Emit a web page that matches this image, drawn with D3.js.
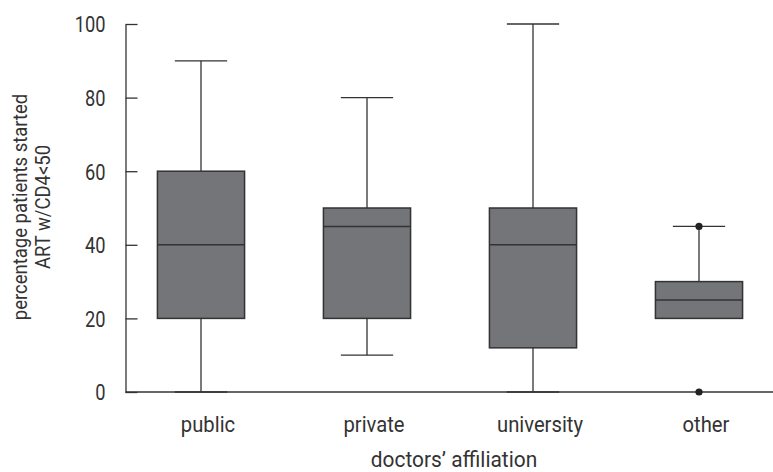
<!DOCTYPE html>
<html>
<head>
<meta charset="utf-8">
<script src="https://cdn.jsdelivr.net/npm/d3@7"></script>
<style>
  body { margin: 0; background: #fff; }
  svg text { font-family: Roboto, "Liberation Sans", sans-serif; fill: #333; }
</style>
</head>
<body>
<div id="chart"></div>
<script>
// box plot values
const categories = ["public", "private", "university", "other"];
const whiskerLow = [0, 10, 0, 20];
const q1 = [20, 20, 12, 20];
const median = [40, 45, 40, 25];
const q3 = [60, 50, 50, 30];
const whiskerHigh = [90, 80, 100, 45];
const outliers = [[], [], [], [0, 45]];
const yTicks = [0, 20, 40, 60, 80, 100];

const width = 773;
const height = 472;
const axisX = 125.5;
const axisY = 392;

const svg = d3.select("#chart").append("svg")
    .attr("width", width)
    .attr("height", height);

const y = d3.scaleLinear().domain([0, 100]).range([axisY, 24]);
const x = d3.scaleBand().domain(categories).range([118, 782]).paddingInner(0.475).paddingOuter(0.2375);

const stroke = "#333";
const fill = "#747579";

// y axis
const yAxis = svg.append("g")
    .attr("transform", `translate(${axisX},0)`)
    .call(d3.axisLeft(y).tickValues(yTicks).tickSizeInner(-12).tickSizeOuter(0));
yAxis.select(".domain").attr("stroke", stroke).attr("stroke-width", 1.3);
yAxis.selectAll(".tick line").attr("stroke", stroke).attr("stroke-width", 1.3);
yAxis.selectAll(".tick text")
    .attr("x", 0).attr("dy", "0.36em")
    .attr("transform", "translate(-20,0) scale(0.83,1)")
    .style("font-size", "22px").attr("fill", "#333");

// x axis baseline
svg.append("line")
    .attr("x1", axisX).attr("x2", width)
    .attr("y1", axisY).attr("y2", axisY)
    .attr("stroke", stroke).attr("stroke-width", 1.3);

const rows = categories.map((c, i) => ({
    cat: c, lo: whiskerLow[i], q1: q1[i], med: median[i], q3: q3[i], hi: whiskerHigh[i], out: outliers[i]
}));

const bw = x.bandwidth();
const capW = bw * 0.6;

const g = svg.selectAll("g.box").data(rows).enter().append("g")
    .attr("class", "box")
    .attr("transform", d => `translate(${x(d.cat) + bw / 2},0)`);

// whiskers
g.append("line").attr("x1", 0).attr("x2", 0)
    .attr("y1", d => y(d.lo)).attr("y2", d => y(d.q1))
    .attr("stroke", stroke).attr("stroke-width", 1.3);
g.append("line").attr("x1", 0).attr("x2", 0)
    .attr("y1", d => y(d.q3)).attr("y2", d => y(d.hi))
    .attr("stroke", stroke).attr("stroke-width", 1.3);
g.append("line").attr("x1", -capW / 2).attr("x2", capW / 2)
    .attr("y1", d => y(d.lo)).attr("y2", d => y(d.lo))
    .attr("stroke", stroke).attr("stroke-width", 1.3);
g.append("line").attr("x1", -capW / 2).attr("x2", capW / 2)
    .attr("y1", d => y(d.hi)).attr("y2", d => y(d.hi))
    .attr("stroke", stroke).attr("stroke-width", 1.3);

// boxes
g.append("rect")
    .attr("x", -bw / 2).attr("width", bw)
    .attr("y", d => y(d.q3)).attr("height", d => y(d.q1) - y(d.q3))
    .attr("fill", fill).attr("stroke", stroke).attr("stroke-width", 1.5);
g.append("line").attr("x1", -bw / 2).attr("x2", bw / 2)
    .attr("y1", d => y(d.med)).attr("y2", d => y(d.med))
    .attr("stroke", stroke).attr("stroke-width", 1.5);

// outliers
g.selectAll("circle").data(d => d.out).enter().append("circle")
    .attr("cx", 0).attr("cy", v => y(v)).attr("r", 3.6)
    .attr("fill", "#222");

// category labels
svg.selectAll("text.cat").data(categories).enter().append("text")
    .attr("class", "cat")
    .attr("transform", d => `translate(${x(d) + bw / 2 + 7},432) scale(0.92,1)`)
    .attr("text-anchor", "middle")
    .style("font-size", "22px")
    .text(d => d);

svg.append("text")
    .attr("transform", "translate(454,467) scale(0.95,1)")
    .attr("text-anchor", "middle")
    .style("font-size", "22px")
    .text("doctors’ affiliation");

const yl = svg.append("text")
    .attr("transform", "translate(0,207) rotate(-90) scale(0.88,1)")
    .attr("text-anchor", "middle")
    .style("font-size", "21px");
yl.append("tspan").attr("x", 0).attr("y", 27).text("percentage patients started");
yl.append("tspan").attr("x", 0).attr("y", 50).text("ART w/CD4<50");
</script>
</body>
</html>
